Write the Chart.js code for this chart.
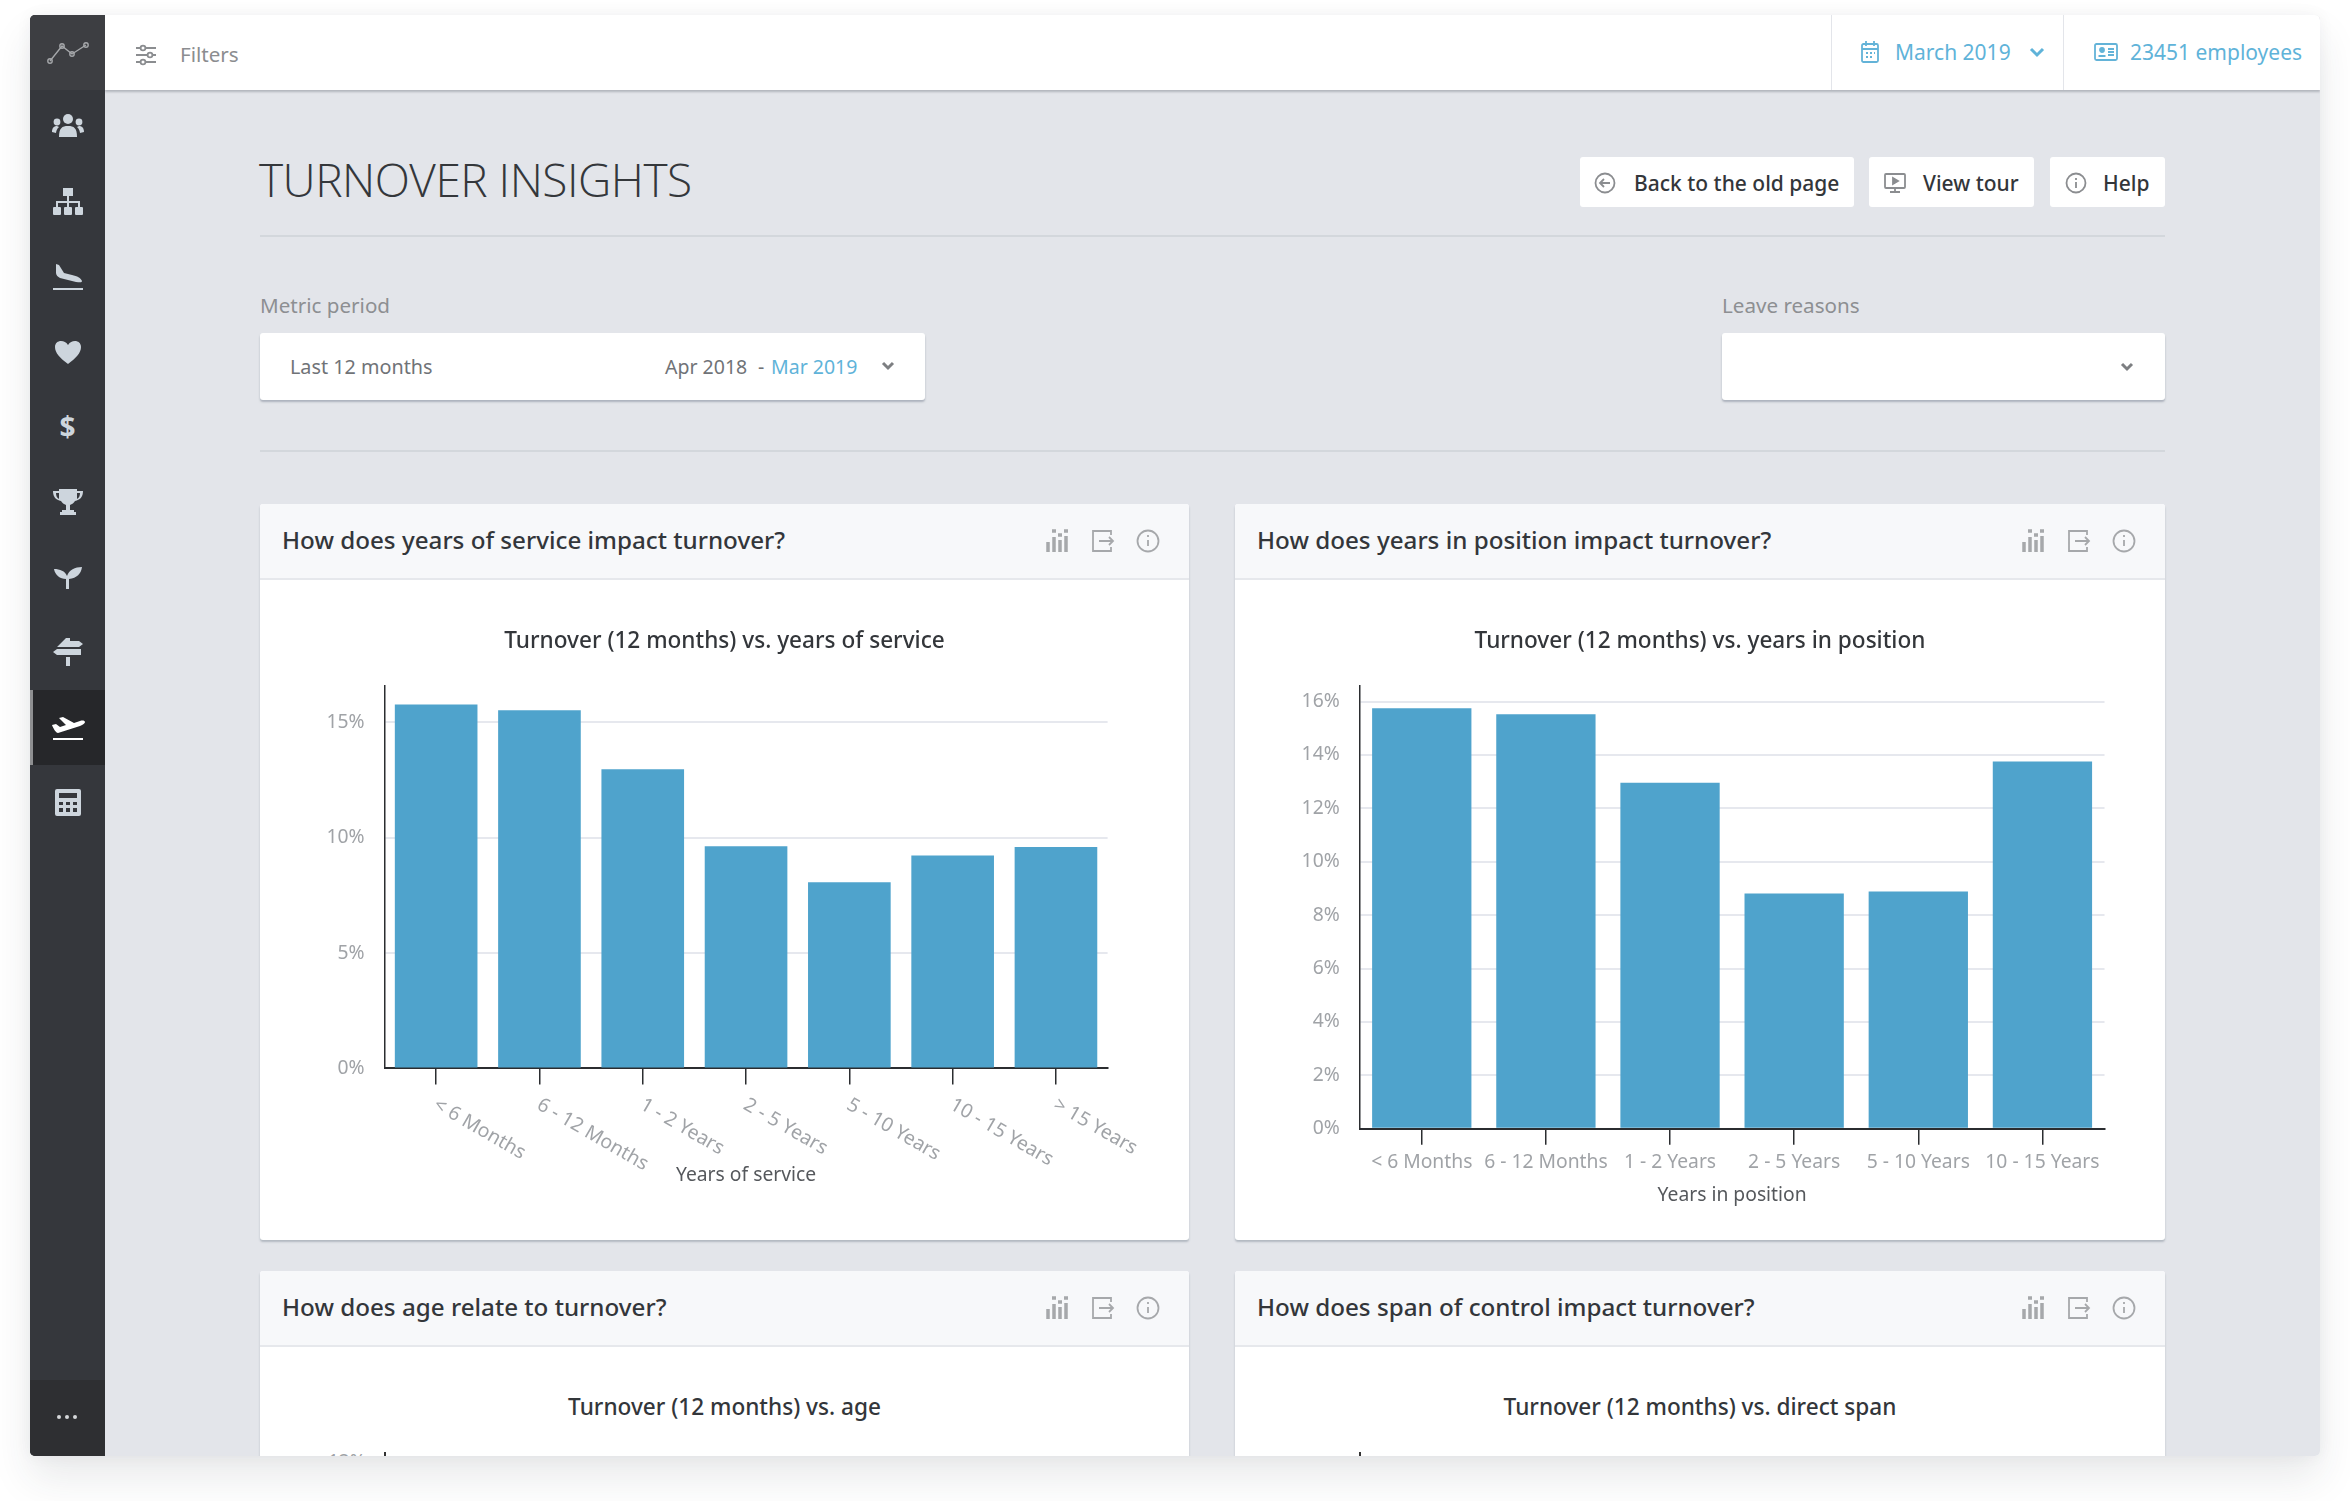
<!DOCTYPE html>
<html>
<head>
<meta charset="utf-8">
<title>Turnover insights</title>
<script src="https://cdn.jsdelivr.net/npm/chart.js@4"></script>
<style>
  html, body { margin: 0; padding: 0; background: #fff; width: 2350px; height: 1501px; overflow: hidden; }
  body { font-family: "Noto Sans", sans-serif; }
  #frame { position: absolute; left: 30px; top: 15px; width: 2290px; height: 1441px; box-shadow: 0 22px 40px rgba(40,45,55,.10), 0 0 16px rgba(40,45,55,.05); border-radius: 5px; }
  #app { position: absolute; left: 0; top: 0; width: 2350px; height: 1501px; background: #e3e5ea; clip-path: inset(15px 30px 45px 30px round 5px); }
  .box { position: absolute; }
  .t { position: absolute; white-space: nowrap; line-height: 1.2; transform: translateY(-50%); }
  .side { position: absolute; left: 49.5px; width: 36px; height: 36px; fill: #cdd5dd; stroke: none; }
  .ico { position: absolute; width: 26px; height: 26px; fill: none; stroke: #a6a8ab; stroke-width: 1.8; }
  .card { position: absolute; background: #fff; border-radius: 3px; box-shadow: 0 2px 2px rgba(120,130,145,.45); }
  .cardHead { position: absolute; left: 0; right: 0; top: 0; height: 74px; background: #f7f8fa; border-bottom: 2px solid #e6e8ec; border-radius: 3px 3px 0 0; }
  .cardTitle { font-size: 24.2px; font-weight: 500; color: #33363a; }
  .drop { position: absolute; top: 333px; height: 67px; background: #fff; border-radius: 3px; box-shadow: 0 2px 2px rgba(120,130,145,.5); }
  .btn { position: absolute; top: 157px; height: 50px; background: #fff; border-radius: 3px; }
  .btnText { font-size: 21px; font-weight: 500; color: #33363a; top: 184px; }
  canvas { position: absolute; }
</style>
</head>
<body>
<div id="frame"></div>
<div id="app">

  <!-- top bar -->
  <div class="box" style="left:105px;top:15px;width:2215px;height:75px;background:#fff;box-shadow:0 2px 2px rgba(120,125,135,.45)"></div>
  <div class="box" style="left:1831px;top:15px;width:1px;height:75px;background:#e3e5ea"></div>
  <div class="box" style="left:2063px;top:15px;width:1px;height:75px;background:#e3e5ea"></div>
  <svg class="ico" style="left:133px;top:42px;stroke:#8b8d90" viewBox="0 0 26 26"><path d="M3 6h20M3 13h20M3 20h20"/><circle cx="10" cy="6" r="2.4" fill="#fff"/><circle cx="17" cy="13" r="2.4" fill="#fff"/><circle cx="10" cy="20" r="2.4" fill="#fff"/></svg>
  <div class="t" style="left:180px;top:54px;font-size:20.6px;color:#8b8d90">Filters</div>
  <svg class="ico" style="left:1857px;top:39px;stroke:#63b3d8" viewBox="0 0 26 26"><rect x="5" y="5" width="16" height="18" rx="1.5"/><path d="M5 10h16M9 2v5M17 2v5M9 14h2M13 14h2M17 14h1M9 18h2M13 18h2"/></svg>
  <div class="t" style="left:1895px;top:53px;font-size:21px;color:#5fb3d9">March 2019</div>
  <svg class="ico" style="left:2024px;top:39px;stroke:#5fb3d9;stroke-width:3" viewBox="0 0 26 26"><path d="M7 10l6 6 6-6"/></svg>
  <svg class="ico" style="left:2093px;top:39px;stroke:#63b3d8" viewBox="0 0 26 26"><rect x="2" y="5" width="22" height="16" rx="1.5"/><circle cx="9" cy="11" r="2" fill="#63b3d8"/><path d="M5.5 17h7M15 10h6M15 13h6M15 16h6"/></svg>
  <div class="t" style="left:2130px;top:53px;font-size:21px;color:#5fb3d9">23451 employees</div>

  <!-- sidebar -->
  <div class="box" style="left:30px;top:15px;width:75px;height:1441px;background:#35373c"></div>
  <div class="box" style="left:30px;top:15px;width:75px;height:75px;background:#3d3e42"></div>
  <div class="box" style="left:30px;top:1380px;width:75px;height:76px;background:#2e2f32"></div>
  <div class="box" style="left:30px;top:690px;width:75px;height:75px;background:#26272a"></div>
  <div class="box" style="left:30px;top:690px;width:3px;height:75px;background:#8e8f91"></div>
  <svg class="box" style="left:45px;top:40px;width:46px;height:26px" viewBox="0 0 46 26" fill="none" stroke="#a5a7aa" stroke-width="1.4"><path d="M5 21L17 6L27 14L41 5"/><circle cx="5" cy="21" r="2.2"/><circle cx="17" cy="6" r="2.2"/><circle cx="27" cy="14" r="2.2"/><circle cx="41" cy="5" r="2.2"/></svg>
  <svg class="side" style="top:109px" viewBox="0 0 36 36"><circle cx="18" cy="10" r="5"/><circle cx="7" cy="13" r="3.4"/><circle cx="29" cy="13" r="3.4"/><path d="M9 28c0-9 3-11 9-11s9 2 9 11zM2 23c0-4 2-6 5-6l2 1c-2 2-2.500 3-3 6zM34 23c0-4-2-6-5-6l-2 1c2 2 2.500 3 3 6z"/></svg>
  <svg class="side" style="top:184px" viewBox="0 0 36 36"><rect x="13" y="4" width="10" height="8"/><rect x="3" y="23" width="8" height="8" rx="1"/><rect x="14" y="23" width="8" height="8" rx="1"/><rect x="25" y="23" width="8" height="8" rx="1"/><path d="M17 12h2v5h11v6h-2v-4H19v4h-2v-4H8v4H6v-6h11z"/></svg>
  <svg class="side" style="top:259px" viewBox="0 0 36 36"><path d="M6 5l3 1 5 8 8 2c5 1 9 3 10 6 0 2-3 1-6 1L10 19c-2-1-4-3-4-5zM3 29h30v2H3z"/></svg>
  <svg class="side" style="top:334px" viewBox="0 0 36 36"><path d="M18 30C10 24 5 19 5 13c0-4 3-6 6-6 3 0 5 1 7 4 2-3 4-4 7-4 3 0 6 2 6 6 0 6-5 11-13 17z"/></svg>
  <div class="t" style="left:49.500px;width:36px;text-align:center;top:427px;font-size:28px;font-weight:700;color:#cdd5dd">$</div>
  <svg class="side" style="top:484px" viewBox="0 0 36 36"><path d="M9 5h18v2h6c0 6-3 9-8 10-1 2-3 3-5 4v5h4v2h2v3H10v-3h2v-2h4v-5c-2-1-4-2-5-4-5-1-8-4-8-10h6zM6 9c0 3 1 5 3 6V9zM30 9h-3v6c2-1 3-3 3-6z"/></svg>
  <svg class="side" style="top:558px" viewBox="0 0 36 36"><path d="M16 31V21C10 21 5 17 4 11c6 0 11 2 13 7 2-6 8-9 15-9-1 7-5 11-13 12v10z"/></svg>
  <svg class="side" style="top:634px" viewBox="0 0 36 36"><path d="M16 4h4v3h9l4 3-4 3H7zM7 15h24v6H7l-4-3zM16 23h4v9h-4z"/></svg>
  <svg class="side" style="top:709px;fill:#fff" viewBox="0 0 36 36"><path d="M2 16l4-1 4 3 6-2-7-7 4-1 11 6 6-2c3-1 5 0 5 1s-2 3-5 4L8 24c-2 0-5-5-6-8zM3 29h30v2H3z"/></svg>
  <svg class="side" style="top:784px" viewBox="0 0 36 36" fill-rule="evenodd"><path d="M7 5h22a2 2 0 0 1 2 2v23a2 2 0 0 1-2 2H7a2 2 0 0 1-2-2V7a2 2 0 0 1 2-2zM9 9v5h18V9zM9 18v3h4v-3zM16 18v3h4v-3zM23 18v3h4v-3zM9 24v4h4v-4zM16 24v4h4v-4zM23 24v4h4v-4z"/></svg>
  <div class="box" style="left:57px;top:1415px;width:4px;height:4px;background:#d5d7da;border-radius:50%;box-shadow:8px 0 0 #d5d7da,16px 0 0 #d5d7da"></div>

  <!-- page heading -->
  <div class="t" style="left:259px;top:180px;font-family:'Open Sans';font-size:46px;font-weight:300;color:#34373b;letter-spacing:-0.5px">TURNOVER INSIGHTS</div>
  <div class="btn" style="left:1580px;width:274px"></div>
  <svg class="ico" style="left:1592px;top:170px;stroke:#8b8d90" viewBox="0 0 26 26"><circle cx="13" cy="13" r="9.500"/><path d="M18 13H8M12 9l-4 4 4 4"/></svg>
  <div class="t btnText" style="left:1634px">Back to the old page</div>
  <div class="btn" style="left:1869px;width:165px"></div>
  <svg class="ico" style="left:1882px;top:170px;stroke:#8b8d90" viewBox="0 0 26 26"><rect x="3" y="4" width="20" height="14" rx="1"/><path d="M13 18v4M8 22h10"/><path d="M11 8l5 3-5 3z" fill="#8b8d90"/></svg>
  <div class="t btnText" style="left:1923px">View tour</div>
  <div class="btn" style="left:2050px;width:115px"></div>
  <svg class="ico" style="left:2063px;top:170px;stroke:#8b8d90" viewBox="0 0 26 26"><circle cx="13" cy="13" r="9.500"/><path d="M13 12v6M13 8v2"/></svg>
  <div class="t btnText" style="left:2103px">Help</div>
  <div class="box" style="left:260px;top:235px;width:1905px;height:2px;background:#d3d7dc"></div>

  <!-- filters -->
  <div class="t" style="left:260px;top:305px;font-size:20.6px;color:#8d8f92">Metric period</div>
  <div class="drop" style="left:260px;width:665px"></div>
  <div class="t" style="left:290px;top:367px;font-size:19.8px;color:#707377">Last 12 months</div>
  <div class="t" style="left:665px;top:367px;font-size:19.5px;color:#707377">Apr 2018</div>
  <div class="t" style="left:758px;top:367px;font-size:19.5px;color:#707377">-</div>
  <div class="t" style="left:771px;top:367px;font-size:19.5px;color:#5fb3d9">Mar 2019</div>
  <svg class="ico" style="left:875px;top:353px;stroke:#7d7f82;stroke-width:3" viewBox="0 0 26 26"><path d="M8 10l5 5 5-5"/></svg>
  <div class="t" style="left:1722px;top:305px;font-size:20.6px;color:#8d8f92">Leave reasons</div>
  <div class="drop" style="left:1722px;width:443px"></div>
  <svg class="ico" style="left:2114px;top:354px;stroke:#7d7f82;stroke-width:3" viewBox="0 0 26 26"><path d="M8 10l5 5 5-5"/></svg>
  <div class="box" style="left:260px;top:450px;width:1905px;height:2px;background:#d3d7dc"></div>

  <!-- chart cards -->
  <div class="card" style="left:260px;top:504px;width:929px;height:736px"><div class="cardHead"></div></div>
  <div class="t cardTitle" style="left:282px;top:540px">How does years of service impact turnover?</div>
  <canvas id="serviceChart" width="929" height="661" style="left:260px;top:579px;width:929px;height:661px"></canvas>

  <div class="card" style="left:1235px;top:504px;width:930px;height:736px"><div class="cardHead"></div></div>
  <div class="t cardTitle" style="left:1257px;top:540px">How does years in position impact turnover?</div>
  <canvas id="positionChart" width="930" height="661" style="left:1235px;top:579px;width:930px;height:661px"></canvas>

  <div class="card" style="left:260px;top:1271px;width:929px;height:300px"><div class="cardHead"></div></div>
  <div class="t cardTitle" style="left:282px;top:1307px">How does age relate to turnover?</div>
  <div class="t" style="left:260px;width:929px;text-align:center;top:1407px;font-size:22.6px;font-weight:500;color:#33363a">Turnover (12 months) vs. age</div>
  <div class="box" style="left:384px;top:1452px;width:2px;height:10px;background:#333"></div>
  <div class="t" style="left:328px;top:1461px;font-size:19px;color:#a0a3a7">12%</div>

  <div class="card" style="left:1235px;top:1271px;width:930px;height:300px"><div class="cardHead"></div></div>
  <div class="t cardTitle" style="left:1257px;top:1307px">How does span of control impact turnover?</div>
  <div class="t" style="left:1235px;width:930px;text-align:center;top:1407px;font-size:22.6px;font-weight:500;color:#33363a">Turnover (12 months) vs. direct span</div>
  <div class="box" style="left:1359px;top:1452px;width:2px;height:10px;background:#333"></div>

  <!-- card header icons -->
  <div id="cardIcons"></div>
</div>

<script>
const serviceLabels = ["< 6 Months", "6 - 12 Months", "1 - 2 Years", "2 - 5 Years", "5 - 10 Years", "10 - 15 Years", "> 15 Years"];
const serviceValues = [15.78, 15.53, 12.97, 9.63, 8.07, 9.23, 9.6];

const positionLabels = ["< 6 Months", "6 - 12 Months", "1 - 2 Years", "2 - 5 Years", "5 - 10 Years", "10 - 15 Years"];
const positionValues = [15.75, 15.52, 12.96, 8.81, 8.88, 13.75];

const barColor = "#4fa3cc";
const axisColor = "#2b2d30";
const gridColor = "#e6e8ee";
const tickColor = "#a0a3a7";
const textColor = "#33363a";
const fontFamily = "'Noto Sans', sans-serif";

// the header icons repeat on every card
const iconRows = [[1057, 541], [2033, 541], [1057, 1308], [2033, 1308]];
let iconHtml = "";
iconRows.forEach(([x, y]) => {
  iconHtml += `<svg class="ico" style="left:${x - 13}px;top:${y - 13}px" viewBox="0 0 26 26"><path stroke-width="3.500" d="M4 24V14M10 24V9M16 24V12M22 24V8M8 3h4M14 7h4M20 3h4"/></svg>`;
  iconHtml += `<svg class="ico" style="left:${x + 32}px;top:${y - 13}px" viewBox="0 0 26 26"><path d="M22 7V3H4v20h18v-4M10 13h14M20 9l4 4-4 4"/></svg>`;
  iconHtml += `<svg class="ico" style="left:${x + 78}px;top:${y - 13}px" viewBox="0 0 26 26"><circle cx="13" cy="13" r="10.500"/><path d="M13 12v6M13 7v2"/></svg>`;
});
document.getElementById("cardIcons").innerHTML = iconHtml;

// category labels of the left chart run downhill from their tick
const slantedLabels = {
  id: "slantedLabels",
  afterDraw(chart) {
    if (!chart.options.plugins.slantedLabels.on)
      return;
    const xScale = chart.scales.x;
    const ctx = chart.ctx;
    ctx.save();
    ctx.font = "19.5px " + fontFamily;
    ctx.fillStyle = tickColor;
    ctx.textAlign = "left";
    ctx.textBaseline = "middle";
    xScale.getLabels().forEach((label, i) => {
      ctx.save();
      ctx.translate(xScale.getPixelForValue(i) - 1, xScale.top + 35);
      ctx.rotate(Math.PI / 6);
      ctx.fillText(label, 0, 0);
      ctx.restore();
    });
    ctx.restore();
  }
};

function makeChart(canvasId, opts) {
  const canvas = document.getElementById(canvasId);

  return new Chart(canvas, {
    type: "bar",
    plugins: [slantedLabels],
    data: {
      labels: opts.labels,
      datasets: [{
        data: opts.values,
        backgroundColor: barColor,
        barPercentage: 0.8,
        categoryPercentage: 1
      }]
    },
    options: {
      responsive: false,
      animation: false,
      devicePixelRatio: 1,
      layout: {
        padding: { left: 20, right: 20, bottom: opts.bottomPad, top: 0 }
      },
      plugins: {
        legend: { display: false },
        tooltip: { enabled: false },
        slantedLabels: { on: opts.slanted },
        title: {
          display: true,
          text: opts.title,
          color: textColor,
          font: { family: fontFamily, size: 22.6, weight: "500" },
          padding: { top: 49, bottom: 30.9 }
        }
      },
      scales: {
        x: {
          afterFit: scale => { scale.height = opts.xHeight; },
          grid: {
            offset: false,
            drawOnChartArea: false,
            color: axisColor,
            lineWidth: 1.5,
            tickLength: 16
          },
          border: { color: axisColor, width: 2 },
          ticks: {
            display: !opts.slanted,
            autoSkip: false,
            maxRotation: 0,
            minRotation: 0,
            padding: 6,
            color: tickColor,
            font: { family: fontFamily, size: 19.3 }
          },
          title: {
            display: true,
            text: opts.xTitle,
            color: "#55585c",
            font: { family: fontFamily, size: 19.3 },
            padding: { top: 0, bottom: opts.xTitlePad }
          }
        },
        y: {
          afterFit: scale => { scale.width = opts.yWidth; },
          min: 0,
          max: opts.yMax,
          grid: {
            color: gridColor,
            lineWidth: 2,
            drawTicks: false
          },
          border: { color: axisColor, width: 1.5 },
          ticks: {
            stepSize: opts.yStep,
            includeBounds: false,
            padding: 20,
            color: tickColor,
            font: { family: fontFamily, size: 19.3 },
            callback: value => value + "%"
          }
        },
        // empty box on the right, keeps the plot off-centre under a centred title
        yGap: {
          position: "right",
          afterFit: scale => { scale.width = opts.rightGap; },
          grid: { display: false },
          border: { display: false },
          ticks: { display: false }
        }
      }
    }
  });
}

makeChart("serviceChart", {
  labels: serviceLabels,
  values: serviceValues,
  title: "Turnover (12 months) vs. years of service",
  xTitle: "Years of service",
  slanted: true,
  yMax: 16.58,
  yStep: 5,
  yWidth: 104.5,
  rightGap: 61.4,
  bottomPad: 40,
  xHeight: 131.6,
  xTitlePad: 12.5
});

makeChart("positionChart", {
  labels: positionLabels,
  values: positionValues,
  title: "Turnover (12 months) vs. years in position",
  xTitle: "Years in position",
  slanted: false,
  yMax: 16.58,
  yStep: 2,
  yWidth: 104.7,
  rightGap: 40.5,
  bottomPad: 30,
  xHeight: 81.3,
  xTitlePad: 3
});
</script>
</body>
</html>
